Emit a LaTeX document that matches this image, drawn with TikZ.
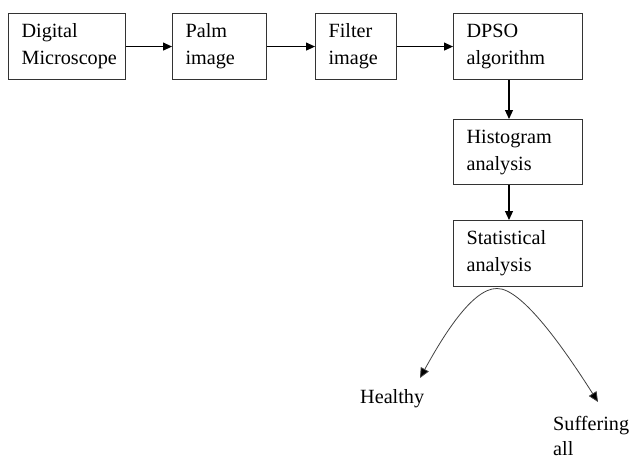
\documentclass[tikz,border=0pt]{standalone}
\usepackage{fontspec}
\setmainfont{Liberation Serif}
\usetikzlibrary{arrows.meta}
\begin{document}
\begin{tikzpicture}[x=1pt,y=1pt,
  box/.style={draw=black!80,line width=1.1pt,inner sep=0pt,font=\fontsize{20.2}{27}\selectfont,align=left,anchor=north west},
  lbl/.style={inner sep=0pt,font=\fontsize{20.2}{25}\selectfont,align=left},
  arr/.style={line width=1.1pt,-{Triangle[length=9pt,width=8pt]}},
  carr/.style={line width=0.8pt,draw=black!75,-{Triangle[length=10pt,width=9pt,fill=black]}}]
\useasboundingbox (0,0) rectangle (631,-463);
\newcommand{\bx}[6]{% name, x1, y1, x2, y2, text
  \node[box,minimum width={#4-#2},minimum height={#5-#3},text width={#4-#2-26}] (#1) at (#2,-#3) {#6};}
\bx{dm}{8}{13}{125}{79}{Digital\\Microscope}
\bx{pi}{172}{13}{266}{79}{Palm\\image}
\bx{fi}{315}{13}{396}{79}{Filter\\image}
\bx{dp}{453}{13}{582}{79}{DPSO\\algorithm}
\bx{ha}{453}{119}{582}{184}{Histogram\\analysis}
\bx{sa}{453}{220}{582}{286}{Statistical\\analysis}
\draw[arr] (dm.east) -- (pi.west);
\draw[arr] (pi.east) -- (fi.west);
\draw[arr] (fi.east) -- (dp.west);
\draw[arr] (dp.south -| 509,0) -- (ha.north -| 509,0);
\draw[arr] (ha.south -| 509,0) -- (sa.north -| 509,0);
\node[lbl,anchor=base west] (he) at (360,-403) {Healthy};
\node[lbl,anchor=base west] (su) at (553,-455) {Suffering\\all};
\coordinate (apex) at (497,-288.5);
\coordinate (hend) at (420,-378);
\coordinate (send) at (598,-402);
\draw[carr] (apex) .. controls (472,-288) and (442,-338) .. (hend);
\draw[carr] (apex) .. controls (522,-288) and (565,-350) .. (send);
\end{tikzpicture}
\end{document}
